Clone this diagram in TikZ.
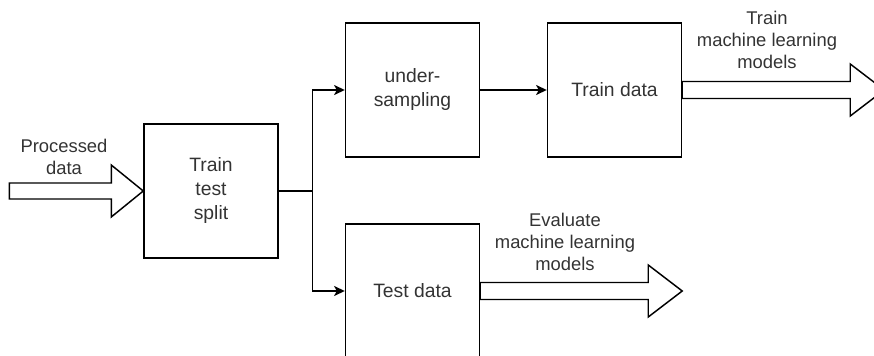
\documentclass[tikz,border=0pt]{standalone}
\usepackage{fontspec}
\setmainfont{Liberation Sans}
\usetikzlibrary{arrows.meta,calc}
\begin{document}
\begin{tikzpicture}[x=0.75pt,y=-0.75pt,
  box/.style={draw=black, line width=1.1pt, minimum width=100.5pt, minimum height=100.5pt, inner sep=0pt, align=center, text=black!80, font=\fontsize{14.5}{18}\selectfont},
  lbl/.style={align=center, text=black!80, inner sep=0pt, font=\fontsize{13.8}{16.5}\selectfont},
  conn/.style={line width=1.1pt, -{Stealth[length=8pt,width=7.5pt,inset=2pt]}},
  blockarrow/.style={draw=black, line width=1.1pt, fill=white, line join=miter}]
\useasboundingbox (0,0) rectangle (874,356);
\clip (0,0) rectangle (874,356);

\node[box] (tts) at (211,191) {Train\\test\\split};
\node[box] (us) at (412.5,90) {under-\\sampling};
\node[box] (trd) at (614.5,90) {Train data};
\node[box] (ted) at (412.5,291) {Test data};

% connectors
\draw[conn] (tts.east) -- ++(34,0) coordinate (split) |- (us.west);
\draw[conn] (split) |- (ted.west);
\draw[conn] (us.east) -- (trd.west);

% block arrows
\draw[blockarrow] (tts.west) -- ++(-32,-26) -- ++(0,18) -- ++(-102,0) -- ++(0,16) -- ++(102,0) -- ++(0,18) -- cycle;
\draw[blockarrow] (trd.east) ++(0,-8.5) -- ++(168,0) -- ++(0,-17.5) -- ++(34,26) -- ++(-34,26) -- ++(0,-17.5) -- ++(-168,0) -- cycle;
\draw[blockarrow] (ted.east) ++(0,-8.5) -- ++(168,0) -- ++(0,-17.5) -- ++(34,26) -- ++(-34,26) -- ++(0,-17.5) -- ++(-168,0) -- cycle;

% labels
\node[lbl] (lp) at (64,157) {Processed\\data};
\node[lbl] (lt) at (767,40) {Train\\machine learning\\models};
\node[lbl] (le) at (565,242) {Evaluate\\machine learning\\models};
\end{tikzpicture}
\end{document}
